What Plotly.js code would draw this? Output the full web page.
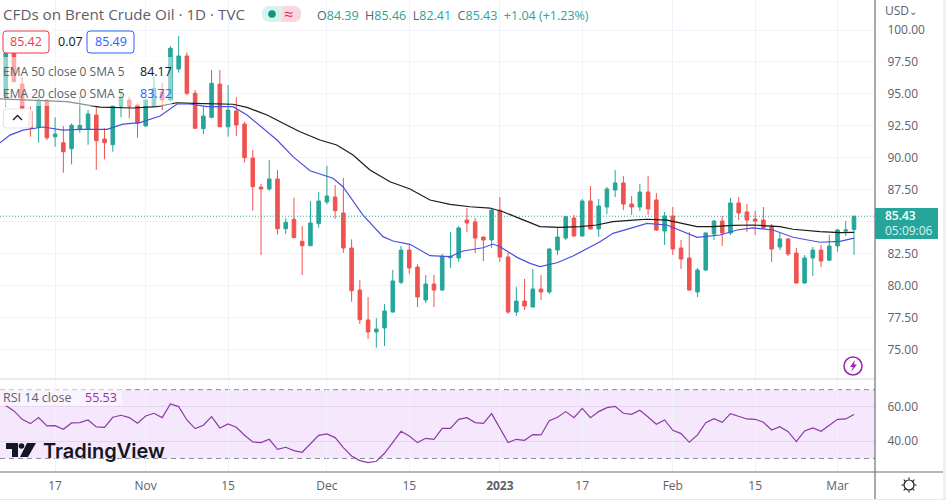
<!DOCTYPE html>
<html><head><meta charset="utf-8">
<script src="https://cdn.plot.ly/plotly-3.0.1.min.js"></script>
<style>html,body{margin:0;padding:0;background:#fff;overflow:hidden}#c{width:946px;height:500px}</style>
</head><body><div id="c"></div>
<script>
const opens=[94.78,98.18,95.77,93.61,92.39,94.52,91.65,91.18,90.71,92.23,92.23,93.35,91.47,91.02,94.05,94.52,94.13,92.49,94.05,95.17,94.52,96.95,97.97,95.05,92.28,93.17,95.77,92.43,93.66,92.64,89.98,87.71,87.56,88.34,84.45,85.19,83.46,83.12,84.85,86.54,86.93,85.68,82.94,79.65,77.31,76.37,76.68,77.93,80.26,82.78,81.45,78.87,80.12,79.65,82.18,82.16,85.13,84.98,83.80,83.57,85.91,82.24,77.93,78.79,78.32,79.73,79.50,82.78,83.72,85.29,83.88,86.62,84.43,86.15,87.48,88.03,86.38,86.15,87.32,86.70,84.27,85.45,82.94,82.16,79.50,81.22,84.04,85.05,84.12,86.46,85.76,85.21,85.13,84.66,83.02,83.65,82.55,80.20,82.16,82.78,81.99,83.10,84.27,84.39];
const highs=[98.30,98.30,96.35,94.00,94.91,94.60,93.18,92.49,92.70,94.78,93.74,94.00,92.31,94.13,95.30,94.78,94.26,94.64,96.35,95.87,98.75,99.53,98.26,95.30,94.05,96.87,96.87,95.70,94.73,92.82,90.61,87.95,89.83,89.05,85.27,86.88,84.66,86.62,87.32,89.38,87.87,88.42,83.62,80.44,79.11,77.46,78.56,81.22,83.10,83.18,81.67,80.83,80.83,82.47,84.19,84.66,86.07,85.29,83.85,85.99,86.93,82.57,79.91,80.52,81.30,80.83,82.94,84.51,85.45,85.52,86.78,87.79,86.78,87.71,89.05,88.57,87.01,87.95,88.57,87.25,85.76,86.15,83.57,84.19,81.38,84.14,85.13,85.45,86.85,86.93,86.38,85.84,86.15,84.82,84.19,83.72,82.94,82.39,83.02,83.18,83.96,84.43,85.05,85.46];
const lows=[93.97,95.93,93.11,91.65,91.18,91.39,90.87,88.83,89.49,91.96,91.02,89.05,89.88,90.48,93.18,93.09,91.57,92.43,94.00,93.74,94.39,96.66,94.91,92.25,91.84,93.09,92.40,91.65,91.70,89.62,85.86,82.39,87.42,83.98,84.04,83.72,80.83,83.10,84.53,86.36,85.23,82.57,78.74,76.99,75.82,75.14,75.27,77.90,80.12,80.91,78.32,78.64,78.32,79.60,81.38,81.87,84.19,82.55,81.92,82.94,81.85,77.78,77.62,78.09,78.32,78.87,79.34,82.39,83.57,83.85,83.85,84.40,83.80,85.60,86.93,85.91,85.52,85.84,85.52,84.27,83.18,82.39,81.30,79.60,79.11,81.15,83.57,83.10,83.96,85.13,84.19,83.96,84.43,81.85,82.78,82.31,80.15,80.15,80.75,81.45,81.92,82.63,83.88,82.41];
const closes=[98.18,95.95,93.87,92.31,94.52,91.57,91.86,90.48,92.54,92.54,93.43,91.34,91.18,94.05,94.64,94.05,92.70,94.52,95.44,94.52,98.57,97.97,95.05,92.31,93.27,95.83,92.43,93.74,92.57,90.01,87.74,87.56,88.34,84.45,84.95,83.75,83.12,84.90,86.62,87.01,85.86,82.94,79.60,77.33,76.37,76.60,78.01,80.36,82.78,81.38,79.11,80.12,79.65,82.29,82.29,84.51,84.90,83.72,83.57,85.91,82.24,77.93,78.79,78.40,79.73,79.50,82.86,83.80,85.39,83.88,86.62,84.43,86.23,87.56,88.03,86.38,86.15,87.32,86.00,84.35,85.45,82.86,82.08,79.65,81.22,84.12,85.05,84.12,86.46,85.68,85.13,85.05,84.51,82.86,83.65,82.47,80.20,82.16,82.78,81.92,83.10,84.35,84.35,85.43];

const ema50Pos=[-0.7,2.95,7.41,11.45,15.46,18.37,20.8,22.74,25.17,27.6,29.3,31.73,34.52,35.73,38.16,40.19,42.17,44.23,46.66,49.09,51.52,53.95,56.37,58.8,60.38,62.81,64.87,67.3,69.73,71.76,73.74,76.16,77.83,80.29,82.24,83.94,85.88,88.31,90.74,94.01,95.59,98.87,101.3,103];
const ema50=[94.62,94.52,94.39,93.97,93.90,94.00,94.31,94.26,94.21,94.19,93.95,93.35,92.43,92.04,91.39,91.00,90.22,89.05,88.13,87.56,86.70,86.36,86.17,86.07,85.78,85.13,84.61,84.56,84.61,84.74,85.00,85.13,85.19,85.13,84.82,84.61,84.61,84.72,84.74,84.61,84.41,84.22,84.14,84.17];
const ema20Pos=[-0.7,0.52,2.1,4.53,6.96,9.03,12.3,14.24,16.31,18.74,20.8,22.38,24.44,27.6,29.3,31.73,32.94,34.88,36.95,39.74,40.95,43.38,45.81,47.03,49.09,51.52,53.95,55.53,57.96,59.17,60.02,62.09,63.67,64.87,66.94,68.88,70.58,72.16,73.74,76.16,77.87,80.29,82.24,83.94,86.74,88.81,90.74,93.17,95.59,98.87,101.3,103];
const ema20=[91.18,91.78,92.17,92.41,92.17,92.23,92.23,92.64,92.75,93.27,94.21,94.21,94.00,94.00,93.35,92.04,91.39,90.09,88.99,88.40,87.74,85.52,83.83,83.49,83.23,82.34,82.26,82.71,82.96,83.25,83.04,82.21,81.74,81.48,81.79,82.31,82.86,83.43,84.09,84.56,84.87,84.74,84.22,83.78,83.96,84.35,84.51,84.35,83.78,83.39,83.46,83.72];
const rsi=[60.72,57.62,52.77,50.25,53.74,48.9,49.09,46.96,50.64,50.84,52.39,48.32,48.12,53.94,55.1,53.74,50.45,54.71,56.26,53.74,61.69,60.14,52.39,47.35,49.29,54.33,47.74,50.06,48.12,43.47,39.6,39.21,41.15,35.33,36.5,34.56,33.59,38.82,43.47,44.25,42.12,36.3,31.46,28.74,27.58,28.36,33.01,39.4,45.8,43.08,39.21,41.73,41.15,47.54,47.54,52.77,53.74,50.84,50.45,56.07,47.54,39.21,41.15,40.57,43.86,43.67,52.0,53.94,57.23,53.74,59.17,53.74,57.23,59.56,60.33,56.26,55.68,58.01,54.13,49.87,52.39,46.38,44.44,39.4,43.67,50.84,53.16,51.03,56.07,54.33,52.97,52.77,51.03,46.57,48.51,45.6,39.79,46.0,47.74,45.8,49.48,52.77,52.97,55.53];
const dateTickPos=[6,17,27,39,49,60,70,81,91,101];
const dateTickText=['17','Nov','15','Dec','15','<b>2023</b>','17','Feb','15','Mar'];
const priceTicks=[75,77.5,80,82.5,85,87.5,90,92.5,95,97.5,100];
const priceTickText=['75.00','77.50','80.00','82.50','','87.50','90.00','92.50','95.00','97.50','100.00'];
const rsiTicks=[40,60];
const rsiTickText=['40.00','60.00'];
const lastPrice=85.43, rsiUpper=70, rsiLower=30;

const idx=closes.map((_,i)=>i);
const W=946,H=500;
const xp=x=>x/W, yp=y=>1-y/H;
const FONT='"Open Sans", "DejaVu Sans", sans-serif';
const GREY='#5d606b', UP='#26a69a', DOWN='#ef5350', GRID='#f0f3fa';

const traces=[
 {type:'candlestick',x:idx,open:opens,high:highs,low:lows,close:closes,xaxis:'x',yaxis:'y',
  increasing:{line:{color:UP,width:1},fillcolor:UP},decreasing:{line:{color:DOWN,width:1},fillcolor:DOWN},
  whiskerwidth:0,hoverinfo:'skip',showlegend:false},
 {type:'scatter',mode:'lines',x:ema50Pos,y:ema50,line:{color:'#1a1a1a',width:1.2},xaxis:'x',yaxis:'y',hoverinfo:'skip',showlegend:false},
 {type:'scatter',mode:'lines',x:ema20Pos,y:ema20,line:{color:'#4a4fe0',width:1.2},xaxis:'x',yaxis:'y',hoverinfo:'skip',showlegend:false},
 {type:'scatter',mode:'lines',x:idx,y:rsi,line:{color:'#8e3aa6',width:1.2},xaxis:'x',yaxis:'y2',hoverinfo:'skip',showlegend:false}
];

function rect(x0,y0,x1,y1,fill,line,layer){return {type:'rect',xref:'paper',yref:'paper',x0:xp(x0),x1:xp(x1),y0:yp(y0),y1:yp(y1),fillcolor:fill||'rgba(0,0,0,0)',line:line||{width:0},layer:layer||'above'};}
function hline(x0,x1,y,color,w){return {type:'line',xref:'paper',yref:'paper',x0:xp(x0),x1:xp(x1),y0:yp(y),y1:yp(y),line:{color:color,width:w||1},layer:'above'};}
function vline(x,y0,y1,color,w){return {type:'line',xref:'paper',yref:'paper',x0:xp(x),x1:xp(x),y0:yp(y0),y1:yp(y1),line:{color:color,width:w||1},layer:'above'};}
function rrect(x0,y0,x1,y1,r){
 const f=(x,y)=>xp(x)+','+yp(y);
 return 'M'+f(x0+r,y0)+' L'+f(x1-r,y0)+' Q'+f(x1,y0)+' '+f(x1,y0+r)+' L'+f(x1,y1-r)+' Q'+f(x1,y1)+' '+f(x1-r,y1)+' L'+f(x0+r,y1)+' Q'+f(x0,y1)+' '+f(x0,y1-r)+' L'+f(x0,y0+r)+' Q'+f(x0,y0)+' '+f(x0+r,y0)+' Z';
}
function rbox(x0,y0,x1,y1,r,fill,line){return {type:'path',xref:'paper',yref:'paper',path:rrect(x0,y0,x1,y1,r),fillcolor:fill,line:line||{width:0},layer:'above'};}
function poly(pts,fill,line){return {type:'path',xref:'paper',yref:'paper',path:'M'+pts.map(p=>xp(p[0])+','+yp(p[1])).join(' L')+' Z',fillcolor:fill,line:line||{width:0},layer:'above'};}
function circ(cx,cy,r,fill,line){return {type:'circle',xref:'paper',yref:'paper',x0:xp(cx-r),x1:xp(cx+r),y0:yp(cy+r),y1:yp(cy-r),fillcolor:fill,line:line||{width:0},layer:'above'};}

const shapes=[
 {type:'rect',xref:'paper',yref:'y2',x0:0,x1:xp(875),y0:rsiLower,y1:rsiUpper,fillcolor:'rgba(156,39,230,0.105)',line:{width:0},layer:'below'},
 {type:'line',xref:'paper',yref:'y2',x0:0,x1:xp(875),y0:rsiUpper,y1:rsiUpper,line:{color:'#8a8c95',width:1,dash:'5px,4px'},layer:'below'},
 {type:'line',xref:'paper',yref:'y2',x0:0,x1:xp(875),y0:rsiLower,y1:rsiLower,line:{color:'#8a8c95',width:1,dash:'5px,4px'},layer:'below'},
 {type:'line',xref:'paper',yref:'y',x0:0,x1:xp(875),y0:lastPrice,y1:lastPrice,line:{color:UP,width:1,dash:'1px,2px'},layer:'above'},
 rect(0,57,172,106,'rgba(255,255,255,0.5)'),
 rect(0,386,122,406,'rgba(255,255,255,0.5)'),
 hline(0,875,379,'#e0e3eb',1.5),
 hline(0,943,472,'#6f717b',1.2),
 vline(875,0,499,'#6f717b',1.2),
 rect(943,0,946,500,'#eef0f3'),
 rect(0,499,946,500,'#e6e8ec'),
 {type:'path',xref:'paper',yref:'paper',path:rrect(262,6,301,22,8),fillcolor:'#d8f2ec',line:{width:0},layer:'above'},
 rect(282,6.5,293,21.5,'#fbd5df'),
 {type:'path',xref:'paper',yref:'paper',path:rrect(282,6,301,22,8),fillcolor:'#fbd5df',line:{width:0},layer:'above'},
 circ(272,14,3.8,'#089981'),
 rbox(3,31,49,53,3,'#ffffff',{color:'#f23645',width:1}),
 rbox(87,31,134,53,3,'#ffffff',{color:'#2962ff',width:1}),
 rbox(3.5,109,32,128,3,'rgba(255,255,255,0.88)',{color:'#e0e3eb',width:1}),
 {type:'path',xref:'paper',yref:'paper',path:'M'+xp(13)+','+yp(120)+' L'+xp(17.5)+','+yp(115.5)+' L'+xp(22)+','+yp(120),line:{color:'#131722',width:1.3},layer:'above'},
 rect(875,208,938,239,UP),
 poly([[6,443],[18,443],[18,457],[12,457],[12,449],[6,449]],'#131722'),
 circ(21.5,446,2.8,'#131722'),
 poly([[27,443],[36,443],[28,457],[20,457]],'#131722'),
 circ(853,366,9,'rgba(255,255,255,0)',{color:'#9c27b0',width:1.6}),
 poly([[855,360],[850,367],[853,367],[851,372],[857,364.5],[854,364.5]],'#9c27b0'),
 circ(909,485,5,'rgba(255,255,255,0)',{color:'#131722',width:1.2})
];
[[909,477.5,909,479.5],[909,490.5,909,492.5],[901.5,485,903.5,485],[914.5,485,916.5,485],[903.7,479.7,905.2,481.2],[912.8,488.8,914.3,490.3],[903.7,490.3,905.2,488.8],[912.8,481.2,914.3,479.7]].forEach(s=>{
 shapes.push({type:'line',xref:'paper',yref:'paper',x0:xp(s[0]),x1:xp(s[2]),y0:yp(s[1]),y1:yp(s[3]),line:{color:'#131722',width:1.1},layer:'above'});
});

function note(x,y,text,size,color,extra){return Object.assign({xref:'paper',yref:'paper',x:xp(x),y:yp(y),xanchor:'left',yanchor:'middle',text:text,showarrow:false,font:{family:FONT,size:size,color:color},borderpad:0,borderwidth:0},extra||{});}
const v=s=>'<span style="color:#26a69a">'+s+'</span>';
const annotations=[
 note(3,14,'CFDs on Brent Crude Oil · 1D · TVC',15.2,GREY),
 note(283.5,14,'≈',16,'#e91e63'),
 note(317,15,'O'+v('84.39')+'  H'+v('85.46')+'  L'+v('82.41')+'  C'+v('85.43')+'  '+v('+1.04 (+1.23%)'),12.5,GREY),
 note(10,42,'85.42',12.5,'#f23645'),
 note(58,42,'0.07',12.5,'#131722'),
 note(95,42,'85.49',12.5,'#2962ff'),
 note(3,71,'EMA 50 close 0 SMA 5',12,GREY),
 note(140,71,'84.17',12.5,'#131722'),
 note(3,94,'EMA 20 close 0 SMA 5',12,GREY),
 note(140,94,'83.72',12.5,'#2962ff'),
 note(3,397,'RSI 14 close',12.5,GREY),
 note(85,397,'55.53',12.5,'#9c27b0'),
 note(43,451,'TradingView',20,'#131722',{font:{family:'Inter, "Open Sans", sans-serif',size:20,color:'#131722',weight:600}}),
 note(885,10,'USD',12,GREY),
 note(909,11,'⌄',10,GREY),
 note(885,216,'85.43',12,'#ffffff',{font:{family:FONT,size:12,color:'#ffffff',weight:600}}),
 note(885,231,'05:09:06',12,'#d8f4ef')
];

const layout={
 width:W,height:H,margin:{l:0,r:0,t:0,b:0},paper_bgcolor:'#fff',plot_bgcolor:'#fff',
 font:{family:FONT,size:12,color:GREY},showlegend:false,boxgap:0.38,
 xaxis:{domain:[0,xp(875)],range:[-0.692,105.55],anchor:'y2',tickmode:'array',tickvals:dateTickPos,ticktext:dateTickText,
  showgrid:true,gridcolor:GRID,gridwidth:1,zeroline:false,showline:false,ticks:'outside',ticklen:3,tickcolor:'rgba(0,0,0,0)',
  tickfont:{family:FONT,size:12,color:GREY},rangeslider:{visible:false},fixedrange:true},
 yaxis:{domain:[yp(379),1],range:[72.69,102.35],side:'right',anchor:'x',tickmode:'array',tickvals:priceTicks,
  ticktext:priceTickText,showgrid:true,gridcolor:GRID,gridwidth:1,zeroline:false,showline:false,ticks:'outside',ticklen:9,tickcolor:'rgba(0,0,0,0)',
  tickfont:{family:FONT,size:12,color:GREY},fixedrange:true},
 yaxis2:{domain:[yp(471.7),yp(379)],range:[22.3,76.2],side:'right',anchor:'x',tickmode:'array',tickvals:rsiTicks,
  ticktext:rsiTickText,showgrid:true,gridcolor:'rgba(160,130,190,0.18)',gridwidth:1,zeroline:false,showline:false,ticks:'outside',ticklen:9,tickcolor:'rgba(0,0,0,0)',
  tickfont:{family:FONT,size:12,color:GREY},fixedrange:true},
 shapes:shapes,annotations:annotations
};
Plotly.newPlot('c',traces,layout,{displayModeBar:false,staticPlot:true});
</script></body></html>
